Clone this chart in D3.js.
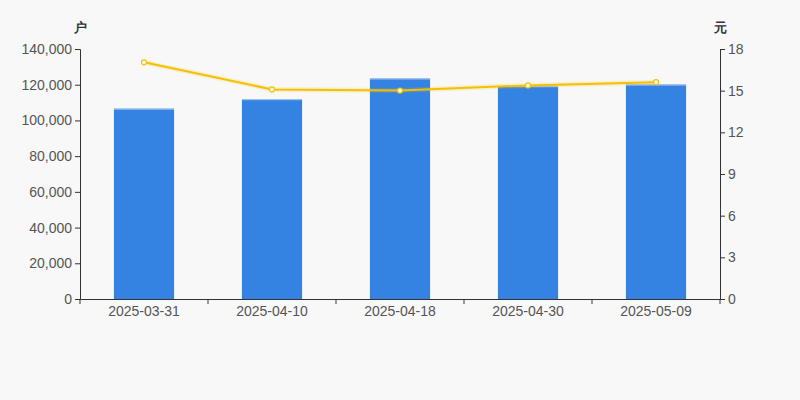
<!DOCTYPE html>
<html><head><meta charset="utf-8">
<script src="https://cdn.jsdelivr.net/npm/d3@7"></script>
<style>body{margin:0;background:#f8f8f8;}svg{display:block;font-family:"Liberation Sans",Arial,sans-serif;}</style>
</head><body><svg id="c" width="800" height="400"></svg>
<script>
const categories = ["2025-03-31","2025-04-10","2025-04-18","2025-04-30","2025-05-09"];
const holders = [106600, 111900, 123500, 119200, 120100];
const prices = [17.04, 15.09, 15.01, 15.38, 15.61];
const leftTicks = [0,20000,40000,60000,80000,100000,120000,140000];
const rightTicks = [0,3,6,9,12,15,18];

const svg = d3.select("#c");
const m = {l:80, r:720, t:49, b:299};
const x = d3.scaleBand().domain(categories).range([m.l, m.r]).paddingInner(0.53).paddingOuter(0.265);
const xb = d3.scaleBand().domain(categories).range([m.l, m.r]);
const yL = d3.scaleLinear().domain([0,140000]).range([m.b, m.t]);
const yR = d3.scaleLinear().domain([0,18]).range([m.b, m.t]);

svg.append("rect").attr("width",800).attr("height",400).attr("fill","#f8f8f8");

// bars
svg.selectAll("rect.bar").data(holders).enter().append("rect").attr("class","bar")
  .attr("x",(d,i)=>x(categories[i])).attr("width",x.bandwidth())
  .attr("y",d=>yL(d)).attr("height",d=>yL(0)-yL(d)).attr("fill","#3482e2");
svg.selectAll("rect.bartop").data(holders).enter().append("rect").attr("class","bartop")
  .attr("x",(d,i)=>x(categories[i])).attr("width",x.bandwidth())
  .attr("y",d=>yL(d)).attr("height",1).attr("fill","#a9c8ef");

// axes
const fmt = d3.format(",");
const gL = svg.append("g").attr("transform",`translate(${m.l},0)`)
  .call(d3.axisLeft(yL).tickValues(leftTicks).tickFormat(fmt).tickSizeOuter(0).tickSize(5).tickPadding(3));
const gR = svg.append("g").attr("transform",`translate(${m.r},0)`)
  .call(d3.axisRight(yR).tickValues(rightTicks).tickSizeOuter(0).tickSize(5).tickPadding(3));
const gX = svg.append("g").attr("transform",`translate(0,${m.b})`)
  .call(d3.axisBottom(xb).tickSize(0).tickSizeOuter(0).tickPadding(7));
const bounds = categories.map(c=>xb(c)).concat([m.r]);
gX.selectAll("line.b").data(bounds).enter().append("line").attr("class","b")
  .attr("x1",d=>d).attr("x2",d=>d).attr("y1",0).attr("y2",5).attr("stroke","#333");

[gL,gR,gX].forEach(g=>{
  g.select(".domain").attr("stroke","#333");
  g.selectAll(".tick line").attr("stroke","#333");
  g.selectAll("text").attr("fill","#555").style("font-size","14px").style("font-family","'Liberation Sans',Arial,sans-serif");
});

// unit labels
svg.append("text").attr("x",80).attr("y",32).attr("text-anchor","middle").attr("fill","#333")
  .style("font-size","13px").style("font-weight","bold").text("户");
svg.append("text").attr("x",720).attr("y",32).attr("text-anchor","middle").attr("fill","#333")
  .style("font-size","13px").style("font-weight","bold").text("元");

// line
const line = d3.line().x((d,i)=>xb(categories[i])+xb.bandwidth()/2).y(d=>yR(d));
svg.append("path").datum(prices).attr("d",line).attr("fill","none")
  .attr("stroke","#f5c400").attr("stroke-opacity",0.18).attr("stroke-width",5);
svg.append("path").datum(prices).attr("d",line).attr("fill","none")
  .attr("stroke","#f5c000").attr("stroke-width",2);
svg.selectAll("circle").data(prices).enter().append("circle")
  .attr("cx",(d,i)=>xb(categories[i])+xb.bandwidth()/2).attr("cy",d=>yR(d))
  .attr("r",2.5).attr("fill","#fff").attr("stroke","#f5c000").attr("stroke-width",1.2);
</script></body></html>
